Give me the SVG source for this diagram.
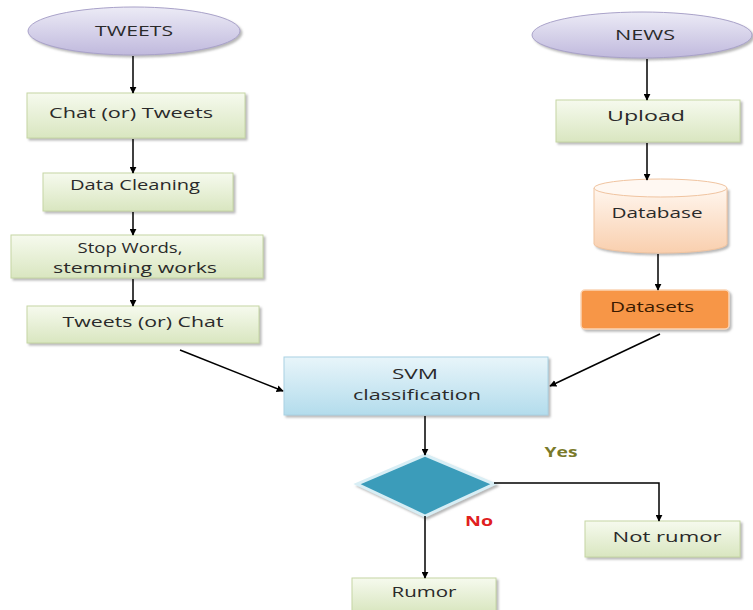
<svg xmlns="http://www.w3.org/2000/svg" width="753" height="610" viewBox="0 0 753 610">
<defs>
<linearGradient id="gGreen" x1="0" y1="0" x2="0" y2="1"><stop offset="0" stop-color="#f6faee"/><stop offset="1" stop-color="#d9e6c0"/></linearGradient>
<linearGradient id="gLav" x1="0" y1="0" x2="0" y2="1"><stop offset="0" stop-color="#ecebf6"/><stop offset="1" stop-color="#c0b9dd"/></linearGradient>
<linearGradient id="gBlue" x1="0" y1="0" x2="0" y2="1"><stop offset="0" stop-color="#e8f5fa"/><stop offset="1" stop-color="#b3dcec"/></linearGradient>
<linearGradient id="gPeach" x1="0" y1="0" x2="0" y2="1"><stop offset="0" stop-color="#fff6ee"/><stop offset="1" stop-color="#f9cfae"/></linearGradient>
<marker id="ah" viewBox="0 0 10 10" refX="9" refY="5" markerWidth="7" markerHeight="7" orient="auto" markerUnits="userSpaceOnUse"><path d="M0,0 L10,5 L0,10 z" fill="#000"/></marker>
<filter id="sh" x="-10%" y="-10%" width="130%" height="140%"><feDropShadow dx="2" dy="2" stdDeviation="1.2" flood-color="#888" flood-opacity="0.6"/></filter>
</defs>
<style>
.box{fill:url(#gGreen);stroke:#c5d6a4;stroke-width:1;filter:url(#sh)}
.ell{fill:url(#gLav);stroke:#a9a2c9;stroke-width:1;filter:url(#sh)}
.t{font-family:"Open Sans","Liberation Sans",sans-serif;font-size:15px;fill:#2a2a2a;text-anchor:middle}
.c{stroke:#000;stroke-width:1.5;fill:none;marker-end:url(#ah)}
</style>
<rect width="753" height="610" fill="#fff"/>
<g id="tweets"><ellipse class="ell" cx="134" cy="31" rx="106" ry="24"/><text class="t" x="134" y="36" textLength="78" lengthAdjust="spacingAndGlyphs">TWEETS</text></g>
<g id="chat"><rect class="box" x="27" y="93" width="218" height="45"/><text class="t" x="131" y="118" textLength="164" lengthAdjust="spacingAndGlyphs">Chat (or) Tweets</text></g>
<g id="cleaning"><rect class="box" x="43" y="173" width="190" height="38"/><text class="t" x="135" y="190" textLength="130" lengthAdjust="spacingAndGlyphs">Data Cleaning</text></g>
<g id="stopwords"><rect class="box" x="11" y="235" width="252" height="43"/><text class="t" x="130" y="253" textLength="105" lengthAdjust="spacingAndGlyphs">Stop Words,</text><text class="t" x="135" y="273" textLength="164" lengthAdjust="spacingAndGlyphs">stemming works</text></g>
<g id="tweetschat"><rect class="box" x="27" y="306" width="232" height="37"/><text class="t" x="143" y="327" textLength="161" lengthAdjust="spacingAndGlyphs">Tweets (or) Chat</text></g>
<g id="news"><ellipse class="ell" cx="642" cy="35" rx="110" ry="23"/><text class="t" x="645" y="40" textLength="60" lengthAdjust="spacingAndGlyphs">NEWS</text></g>
<g id="upload"><rect class="box" x="556" y="100" width="184" height="42"/><text class="t" x="646" y="121" textLength="78" lengthAdjust="spacingAndGlyphs">Upload</text></g>
<g id="database"><path d="M594,188 L594,244 A66.5,9 0 0 0 727,244 L727,188" fill="url(#gPeach)" stroke="#f0c4a0" filter="url(#sh)"/><ellipse cx="660.5" cy="188" rx="66.5" ry="9" fill="#fff8f2" stroke="#f0c4a0"/><text class="t" x="657" y="218" textLength="91" lengthAdjust="spacingAndGlyphs">Database</text></g>
<g id="datasets"><rect x="581" y="290" width="148" height="39" rx="4" fill="#f79646" stroke="#fbd5b5" stroke-width="1.5" filter="url(#sh)"/><text class="t" x="652" y="312" textLength="84" lengthAdjust="spacingAndGlyphs" style="fill:#3a1a00">Datasets</text></g>
<g id="svm"><rect x="284" y="357" width="264" height="58" fill="url(#gBlue)" stroke="#a9d2e3" filter="url(#sh)"/><text class="t" x="415" y="379" textLength="46" lengthAdjust="spacingAndGlyphs">SVM</text><text class="t" x="417" y="400" textLength="128" lengthAdjust="spacingAndGlyphs">classification</text></g>
<g id="decision"><polygon points="425,455 494,484 425,516 357,484" fill="#3b9cba" stroke="#d8eef5" stroke-width="3" filter="url(#sh)"/></g>
<g id="notrumor"><rect class="box" x="585" y="521" width="155" height="36"/><text class="t" x="667" y="542" textLength="109" lengthAdjust="spacingAndGlyphs">Not rumor</text></g>
<g id="rumor"><rect class="box" x="352" y="578" width="144" height="34"/><text class="t" x="424" y="597" textLength="65" lengthAdjust="spacingAndGlyphs">Rumor</text></g>
<g id="labels">
<text x="561" y="457" font-family="'Open Sans','Liberation Sans',sans-serif" font-size="14" font-weight="bold" fill="#7a7a2a" text-anchor="middle" textLength="33" lengthAdjust="spacingAndGlyphs">Yes</text>
<text x="479" y="526" font-family="'Open Sans','Liberation Sans',sans-serif" font-size="14" font-weight="bold" fill="#e02020" text-anchor="middle" textLength="28" lengthAdjust="spacingAndGlyphs">No</text>
</g>
<g id="connectors">
<line class="c" x1="133" y1="56" x2="133" y2="93"/>
<line class="c" x1="133" y1="139" x2="133" y2="173"/>
<line class="c" x1="133" y1="212" x2="133" y2="235"/>
<line class="c" x1="133" y1="279" x2="133" y2="306"/>
<line class="c" x1="180" y1="350" x2="283" y2="391"/>
<line class="c" x1="647" y1="59" x2="647" y2="100"/>
<line class="c" x1="647" y1="143" x2="647" y2="180"/>
<line class="c" x1="658" y1="254" x2="658" y2="290"/>
<line class="c" x1="660" y1="334" x2="550" y2="386"/>
<line class="c" x1="425" y1="416" x2="425" y2="455"/>
<polyline class="c" points="494,483 659,483 659,521"/>
<line class="c" x1="425" y1="516" x2="425" y2="578"/>
</g>
</svg>
